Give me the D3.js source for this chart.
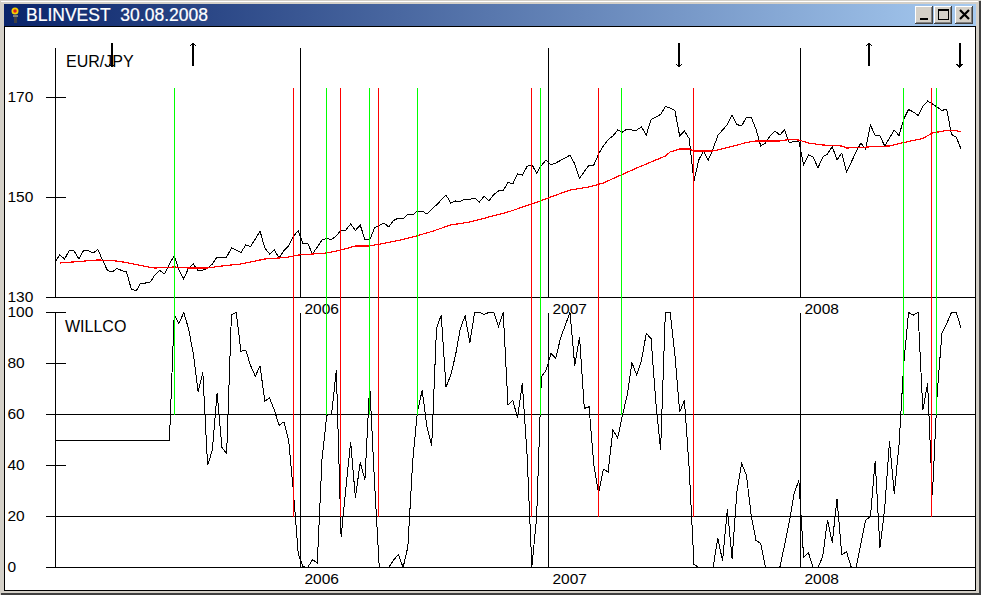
<!DOCTYPE html>
<html><head><meta charset="utf-8">
<script src="https://cdn.jsdelivr.net/npm/d3@7"></script>
<style>
html,body{margin:0;padding:0;background:#fff;overflow:hidden}
svg{display:block}
text{font-family:"Liberation Sans",Arial,sans-serif;fill:#000}
</style></head><body><svg id="c" width="1008" height="595"></svg>
<script>
const titleText = "BLINVEST\u00a0\u00a030.08.2008";
const priceLabel = "EUR/JPY";
const oscLabel = "WILLCO";
const priceTicks = [170,150,130];
const oscTicks = [100,80,60,40,20,0];
const oscFullTicks = [60,20,0];
const yearLabels = ["2006","2007","2008"];
const yearWeeks = [51.4,103.5,156.4];
const price = [137.1,138.5,137.7,139.4,139.3,137.7,139.4,139.4,138.9,139.6,137.4,135.4,135.1,135.8,135.4,135.1,131.7,131.3,132.9,132.9,133.1,134.6,135.4,134.7,136.7,138.4,135.5,133.7,135.9,136.7,135.4,135.5,135.8,136.7,138.1,138.1,138.1,139.9,139.5,139.0,140.5,140.2,141.7,143.3,139.9,138.7,139.5,137.9,139.4,140.3,142.3,143.3,140.8,140.8,138.7,140.1,141.5,141.8,141.6,142.3,143.5,143.5,144.7,143.4,144.5,141.6,141.5,143.9,144.4,144.9,144.1,145.4,145.9,145.7,146.7,146.5,147.3,147.3,146.7,147.7,148.5,149.5,150.5,148.9,149.3,149.2,149.7,149.6,149.9,149.1,150.3,149.3,150.6,151.3,151.4,153.0,152.7,154.7,154.5,156.2,156.6,154.9,156.4,157.5,156.5,156.9,157.4,157.9,158.5,156.7,153.8,155.2,156.5,156.5,158.7,160.3,161.6,162.3,163.5,163.1,163.7,163.5,163.5,164.1,162.5,165.6,166.1,166.6,168.2,167.9,167.4,162.3,163.3,161.8,153.3,157.5,159.3,157.5,159.7,162.4,163.5,164.6,166.5,164.6,164.3,166.1,166.1,163.7,160.3,160.9,162.4,163.3,162.5,163.5,160.9,161.3,161.2,156.5,158.5,158.1,155.9,158.1,158.7,160.2,157.5,158.9,155.1,157.1,159.1,160.9,159.7,164.5,162.4,162.3,160.3,161.9,163.5,162.4,165.7,167.6,167.1,166.4,168.2,169.3,168.7,168.1,167.4,167.7,162.6,162.1,159.7];
const maWeeks = [1,5,9,12,15,19,21,25,28,32,35,39,41,44,47,49,51,54,57,60,63,66,72,75,79,83,87,91,95,100,104,108,112,115,118,122,125,128,129,131,133,134,138,142,145,147,152,154,156,158,161,165,166,169,172,175,178,182,184,187,189,190];
const maValues = [136.9,137.2,137.5,137.4,137.0,136.2,135.9,136.1,135.9,135.9,136.3,136.7,137.1,137.7,137.9,138.1,138.5,138.7,138.9,139.5,140.3,140.3,141.4,142.1,143.2,144.5,145.1,146.1,147.1,148.7,150.1,151.5,152.1,152.9,154.2,155.9,157.1,158.3,159.1,159.7,159.7,159.3,159.3,160.2,161.0,161.3,161.3,161.6,161.5,160.9,160.5,160.3,159.9,160.0,160.2,160.3,161.0,161.8,162.9,163.4,163.4,163.1];
const willco = [50,50,50,50,50,50,50,50,50,50,50,50,50,50,50,50,50,50,50,50,50,50,50,50,50,99,95.7,100,93.7,83.9,68.9,76.5,40.1,46,68.6,47.1,44.7,99.2,100,84.8,85.2,79.3,75,79.1,65.2,66.5,61.7,55.8,57.1,49.9,29.7,5.5,0.3,0,3.1,1.7,42.7,59.7,60,77.4,12,31,49.3,27.3,41.2,34.5,71.8,33.6,0,0,0,2.9,5.1,0,8.1,41.4,61,69.5,55.2,47.7,93.7,99,70.8,75.4,83.3,93.7,98.7,88.1,100,100,99.3,100,100,94.4,100,63.7,65.6,58.7,72.2,44,0.3,19.5,74.8,77.4,83.9,82,89.8,95,100,79.1,90.5,62.4,63,40.1,29,38.6,37.5,53.9,50.8,59.7,67.6,80.3,75.4,81.3,91.8,89.8,65,46,100,100,83.3,61,65.6,38.8,1.2,0,0,0,0,11.4,2.6,22.9,3.5,29.7,40.8,36.2,20.5,10.7,9.4,0,0,0,0,8.8,17.9,29,34.2,3.9,5.8,0,0,4.2,18.6,9.8,26.8,5.1,6.1,0,0,9.4,18.6,19.9,41.8,7.7,23.1,49.5,29,48,80,100,99,100,61.7,72.2,28.4,68.2,91.8,95.7,100,100,94];
const greenWeeks = [25,57,66,76,101.9,118.8,178,184.9];
const redWeeks = [50,59.9,67.9,99.9,114,133.9,183.8];
const greenStop = 60, redStop = 20, signalTop = 172;
const upWeeks = [29,170.8];
const downWeeks = [12,131,189.8];

const svg = d3.select("#c");
const snap = v => Math.floor(v)+0.5;
const x = d3.scaleLinear().domain([0,190]).range([55,961]);
const yP = d3.scaleLinear().domain([130,170]).range([297.5,97.5]);
const yO = d3.scaleLinear().domain([0,100]).range([567.5,312.5]);

/* window chrome */
const defs = svg.append("defs");
const g = defs.append("linearGradient").attr("id","tb");
g.append("stop").attr("offset",0).attr("stop-color","#0a246a");
g.append("stop").attr("offset",1).attr("stop-color","#a6caf0");
svg.append("rect").attr("width",981).attr("height",595).attr("fill","#404040");
svg.append("rect").attr("x",1).attr("y",1).attr("width",978).attr("height",592).attr("fill","#d4d0c8");
svg.append("rect").attr("x",1).attr("y",1).attr("width",977).attr("height",1).attr("fill","#fff");
svg.append("rect").attr("x",0).attr("y",0).attr("width",981).attr("height",1).attr("fill","#d4d0c8");
svg.append("rect").attr("x",0).attr("y",0).attr("width",1).attr("height",595).attr("fill","#d4d0c8");
svg.append("rect").attr("x",4).attr("y",4).attr("width",972).attr("height",22).attr("fill","url(#tb)");
svg.append("rect").attr("x",4.5).attr("y",26.5).attr("width",971).attr("height",564).attr("fill","#fff").attr("stroke","#000");
svg.append("text").attr("x",26).attr("y",21).attr("font-size",17.5).attr("font-weight","normal")
  .style("fill","#fff").attr("stroke","#fff").attr("stroke-width",0.2).text(titleText);

/* title icon */
const ic = svg.append("g");
ic.append("rect").attr("x",13).attr("y",15).attr("width",5).attr("height",2).attr("fill","#808080");
ic.append("rect").attr("x",14).attr("y",17).attr("width",3).attr("height",6).attr("fill","#404040");
ic.append("circle").attr("cx",15).attr("cy",11).attr("r",3.5).attr("fill","#f4d000");
ic.append("circle").attr("cx",15).attr("cy",11).attr("r",1.8).attr("fill","#e02020");

/* caption buttons */
const btnX = [915,934,955];
const btn = svg.selectAll("g.btn").data(btnX).join("g").attr("class","btn").attr("transform",d=>`translate(${d},6)`);
btn.append("rect").attr("width",18).attr("height",18).attr("fill","#404040");
btn.append("rect").attr("width",17).attr("height",17).attr("fill","#fff");
btn.append("rect").attr("x",1).attr("y",1).attr("width",16).attr("height",16).attr("fill","#808080");
btn.append("rect").attr("x",1).attr("y",1).attr("width",15).attr("height",15).attr("fill","#d4d0c8");
svg.append("rect").attr("x",920).attr("y",18).attr("width",8).attr("height",2).attr("fill","#000");
svg.append("rect").attr("x",938.5).attr("y",9.5).attr("width",10).attr("height",10).attr("fill","none").attr("stroke","#000");
svg.append("rect").attr("x",938).attr("y",9).attr("width",11).attr("height",2).attr("fill","#000");
svg.append("path").attr("d","M960 10L969 19M969 10L960 19").attr("stroke","#000").attr("stroke-width",2.2).attr("fill","none");

const plot = svg.append("g");

/* axes built with d3 */
function styleAxis(sel, full){
  sel.selectAll(".domain").attr("stroke","#000");
  sel.selectAll(".tick line").attr("stroke","#000").attr("shape-rendering","crispEdges")
     .attr("x1",d=>full.includes(d)?920:10);
  sel.selectAll(".tick text").attr("x",-48).attr("text-anchor","start").attr("font-size",15.5)
     .attr("font-family","Liberation Sans").style("fill","#000");
}
const axP = plot.append("g").attr("transform","translate(55.5,0)")
  .call(d3.axisLeft(yP).offset(0).tickValues(priceTicks).tickSize(10).tickSizeOuter(0).tickFormat(d3.format("d")));
styleAxis(axP,[130]);
axP.select(".domain").attr("d","M0,47.5V297.5").attr("shape-rendering","crispEdges");
const axO = plot.append("g").attr("transform","translate(55.5,0)")
  .call(d3.axisLeft(yO).offset(0).tickValues(oscTicks).tickSize(10).tickSizeOuter(0).tickFormat(d3.format("d")));
styleAxis(axO,oscFullTicks);
axO.select(".domain").attr("shape-rendering","crispEdges");

/* year lines and labels */
yearWeeks.forEach((w,i)=>{
  const px = snap(x(w));
  plot.append("line").attr("x1",px).attr("x2",px).attr("y1",47.5).attr("y2",yP(130)).attr("stroke","#000").attr("shape-rendering","crispEdges");
  plot.append("line").attr("x1",px).attr("x2",px).attr("y1",yO(100)).attr("y2",yO(0)).attr("stroke","#000").attr("shape-rendering","crispEdges");
  [314,584].forEach(b=>plot.append("text").attr("x",px+4).attr("y",b).attr("font-size",15.5).text(yearLabels[i]));
});

/* panel captions */
plot.append("text").attr("x",66).attr("y",67).attr("font-size",16).text(priceLabel);
plot.append("text").attr("x",65).attr("y",332).attr("font-size",16).text(oscLabel);

/* series */
const lineP = d3.line().x((d,i)=>x(i)).y(d=>yP(d));
const lineO = d3.line().x((d,i)=>x(i)).y(d=>yO(d));
const lineMA = d3.line().x(d=>x(d[0])).y(d=>yP(d[1]));
plot.append("path").attr("d",lineP(price)).attr("fill","none").attr("stroke","#000").attr("shape-rendering","crispEdges");
plot.append("path").attr("d",lineMA(d3.zip(maWeeks,maValues))).attr("fill","none").attr("stroke","#ff0000").attr("stroke-width",1.2).attr("shape-rendering","crispEdges");
plot.append("path").attr("d",lineO(willco)).attr("fill","none").attr("stroke","#000").attr("shape-rendering","crispEdges");

/* signal lines */
const sigTopY = yP(signalTop);
const sig = (weeks,stop,col)=>plot.selectAll(null).data(weeks).join("line")
  .attr("x1",d=>snap(x(d))).attr("x2",d=>snap(x(d))).attr("y1",sigTopY).attr("y2",yO(stop))
  .attr("stroke",col).attr("shape-rendering","crispEdges");
sig(greenWeeks,greenStop,"#00ff00");
sig(redWeeks,redStop,"#ff0000");

/* arrows */
const arrow = (w,up)=>{
  const px = x(w)-0.5;
  const top=43, bot=67;
  plot.append("rect").attr("x",Math.round(px)-1).attr("y",top).attr("width",2).attr("height",bot-top-1).attr("fill","#000");
  const d = up ? `M${px-3} ${top+3}L${px} ${top}L${px+3} ${top+3}` : `M${px-3} ${bot-3}L${px} ${bot}L${px+3} ${bot-3}`;
  plot.append("path").attr("d",d).attr("fill","none").attr("stroke","#000").attr("shape-rendering","crispEdges");
};
upWeeks.forEach(w=>arrow(w,true));
downWeeks.forEach(w=>arrow(w,false));
</script></body></html>
